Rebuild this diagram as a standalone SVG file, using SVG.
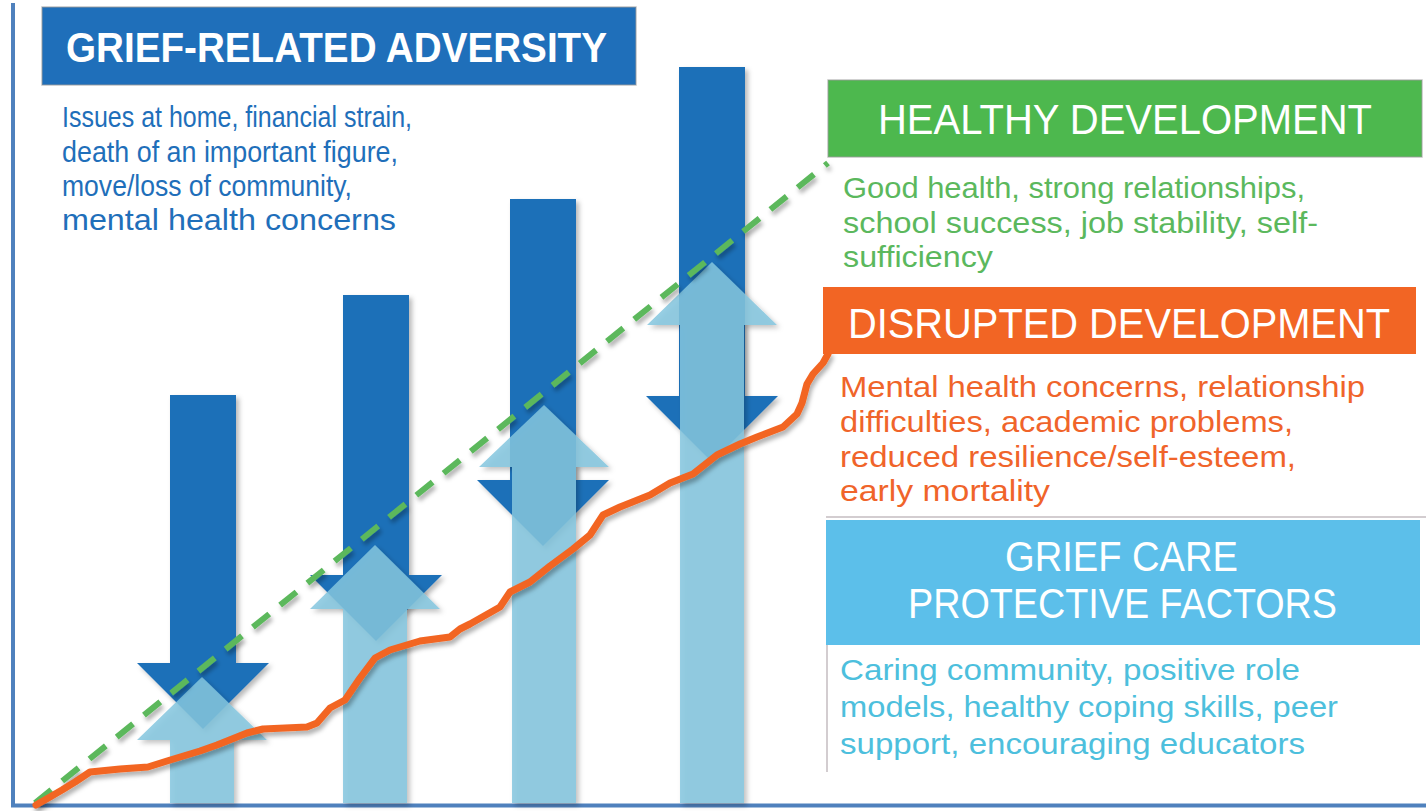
<svg xmlns="http://www.w3.org/2000/svg" width="1426" height="811" viewBox="0 0 1426 811">
  <defs>
    <style>
      .title { font-family: "Liberation Sans", Arial, sans-serif; font-size: 42px; fill: #ffffff; }
      .bold { font-weight: bold; }
      .body { font-family: "Liberation Sans", Arial, sans-serif; font-size: 30px; }
      .dark { fill: #1F70B8; }
      .light { fill: #84C6DE; fill-opacity: 0.85; }
      .axis { stroke: #4F81BD; stroke-width: 4; fill: none; }
      .frame { stroke: #c4bcc0; stroke-width: 1.5; fill: none; }
      .boxline { stroke: #9a9a9a; stroke-opacity: 0.6; stroke-width: 1.5; }
    </style>
    <filter id="shadow" x="-20%" y="-20%" width="140%" height="140%">
      <feDropShadow dx="3" dy="3" stdDeviation="2.5" flood-color="#000" flood-opacity="0.28"/>
    </filter>
    <filter id="lineshadow" x="-10%" y="-10%" width="120%" height="120%">
      <feDropShadow dx="2" dy="4" stdDeviation="2" flood-color="#000" flood-opacity="0.3"/>
    </filter>
  </defs>

  <rect width="1426" height="811" fill="#ffffff"/>

  <!-- axes -->
  <g id="axes">
    <line class="axis" x1="13" y1="3" x2="13" y2="807"/>
    <line class="axis" x1="11" y1="805.5" x2="1426" y2="805.5"/>
  </g>

  <!-- adversity (down) arrows -->
  <g id="adversity-arrows" filter="url(#shadow)">
    <polygon id="down1" class="dark" points="170,395 236,395 236,663 269,663 203,729 137,663 170,663"/>
    <polygon id="down2" class="dark" points="343,295 409,295 409,575 442,575 376,641 310,575 343,575"/>
    <polygon id="down3" class="dark" points="510,199 576,199 576,480 609,480 543,546 477,480 510,480"/>
    <polygon id="down4" class="dark" points="679,67 745,67 745,396 778,396 712,462 646,396 679,396"/>
  </g>

  <!-- protective (up) arrows -->
  <g id="protective-arrows" filter="url(#shadow)">
    <polygon id="up1" class="light" points="202,677 267,740 234,740 234,803 170,803 170,740 137,740"/>
    <polygon id="up2" class="light" points="375,545 440,609 407,609 407,803 343,803 343,609 310,609"/>
    <polygon id="up3" class="light" points="544,405 609,467 576,467 576,803 512,803 512,467 479,467"/>
    <polygon id="up4" class="light" points="712,262 777,325 744,325 744,803 680,803 680,325 647,325"/>
  </g>

  <!-- connectors / trend lines -->
  <g id="connectors">
    <line id="healthy-line" x1="35" y1="803" x2="828" y2="163" stroke="#5CB85C" stroke-width="6" stroke-dasharray="21 14" filter="url(#lineshadow)"/>
    <polyline id="disrupted-line" fill="none" stroke="#F26522" stroke-width="7" stroke-linejoin="round" stroke-linecap="round" filter="url(#lineshadow)"
      points="36,805 50,797 62,790 75,782 90,772 120,769 148,767 167,761 200,751 217,745 247,733 263,729 307,727 317,723 330,708 345,700 360,678 375,658 390,650 420,641 450,637 460,629 470,624 500,607 510,592 530,582 550,566 573,549 590,535 603,515 620,507 650,495 670,483 693,474 717,455 740,444 757,437 783,427 797,414 802,403 807,384 813,374 823,363 828,354"/>
  </g>

  <!-- GRIEF-RELATED ADVERSITY -->
  <g id="adversity">
    <rect x="42" y="7" width="594" height="78" fill="#1F6FBA" class="boxline"/>
    <text class="title bold" x="66" y="62" textLength="541" lengthAdjust="spacingAndGlyphs">GRIEF-RELATED ADVERSITY</text>
    <g class="body" fill="#1F6FBA">
      <text x="62" y="127" textLength="350" lengthAdjust="spacingAndGlyphs">Issues at home, financial strain,</text>
      <text x="62" y="162" textLength="336" lengthAdjust="spacingAndGlyphs">death of an important figure,</text>
      <text x="62" y="196" textLength="290" lengthAdjust="spacingAndGlyphs">move/loss of community,</text>
      <text x="62" y="230" textLength="334" lengthAdjust="spacingAndGlyphs">mental health concerns</text>
    </g>
  </g>

  <!-- HEALTHY DEVELOPMENT -->
  <g id="healthy">
    <rect x="828" y="80" width="594" height="77" fill="#4DB84E" class="boxline"/>
    <text class="title" x="878" y="134" textLength="494" lengthAdjust="spacingAndGlyphs">HEALTHY DEVELOPMENT</text>
    <g class="body" fill="#5BB85D">
      <text x="843" y="198" textLength="462" lengthAdjust="spacingAndGlyphs">Good health, strong relationships,</text>
      <text x="843" y="233" textLength="475" lengthAdjust="spacingAndGlyphs">school success, job stability, self-</text>
      <text x="843" y="267" textLength="150" lengthAdjust="spacingAndGlyphs">sufficiency</text>
    </g>
  </g>

  <!-- DISRUPTED DEVELOPMENT -->
  <g id="disrupted">
    <rect x="823" y="287" width="593" height="67" fill="#F26524"/>
    <text class="title" x="848" y="338" textLength="542" lengthAdjust="spacingAndGlyphs">DISRUPTED DEVELOPMENT</text>
    <g class="body" fill="#F0642A">
      <text x="840" y="397" textLength="525" lengthAdjust="spacingAndGlyphs">Mental health concerns, relationship</text>
      <text x="840" y="432" textLength="453" lengthAdjust="spacingAndGlyphs">difficulties, academic problems,</text>
      <text x="840" y="467" textLength="456" lengthAdjust="spacingAndGlyphs">reduced resilience/self-esteem,</text>
      <text x="840" y="501" textLength="210" lengthAdjust="spacingAndGlyphs">early mortality</text>
    </g>
    <line class="frame" x1="826" y1="517" x2="1426" y2="517"/>
  </g>

  <!-- GRIEF CARE PROTECTIVE FACTORS -->
  <g id="protective">
    <rect x="826" y="520" width="594" height="125" fill="#5CBFEA"/>
    <text class="title" x="1005" y="571" textLength="233" lengthAdjust="spacingAndGlyphs">GRIEF CARE</text>
    <text class="title" x="908" y="618" textLength="429" lengthAdjust="spacingAndGlyphs">PROTECTIVE FACTORS</text>
    <line class="frame" x1="827" y1="645" x2="827" y2="772"/>
    <g class="body" fill="#4DBFDD">
      <text x="840" y="680" textLength="460" lengthAdjust="spacingAndGlyphs">Caring community, positive role</text>
      <text x="840" y="717" textLength="498" lengthAdjust="spacingAndGlyphs">models, healthy coping skills, peer</text>
      <text x="840" y="754" textLength="465" lengthAdjust="spacingAndGlyphs">support, encouraging educators</text>
    </g>
  </g>
</svg>
